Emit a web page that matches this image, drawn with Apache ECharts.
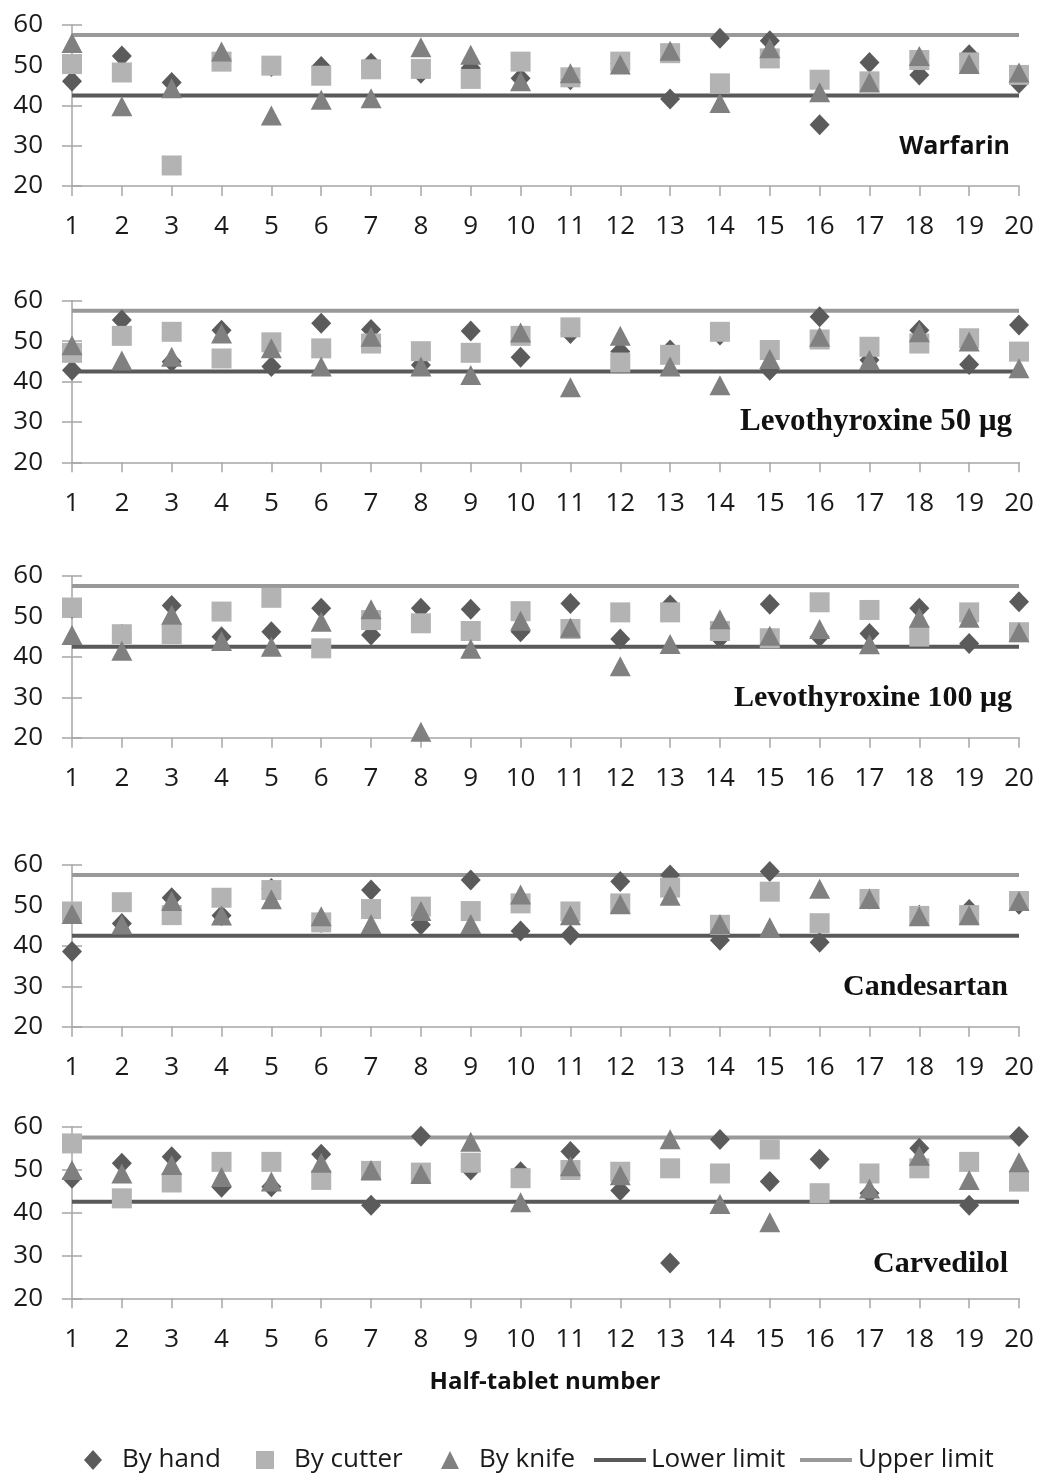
<!DOCTYPE html>
<html>
<head>
<meta charset="utf-8">
<script src="https://cdn.jsdelivr.net/npm/echarts@6/dist/echarts.min.js"></script>
<style>html,body{margin:0;padding:0;background:#fff;}#c{width:1037px;height:1473px;}</style>
</head>
<body>
<div id="c"></div>
<script>
var tablets = [1,2,3,4,5,6,7,8,9,10,11,12,13,14,15,16,17,18,19,20];
var yTicks = [20,30,40,50,60];
var lowerLimit = 42.5;
var upperLimit = 57.5;
var panelTitles = ['Warfarin','Levothyroxine 50 μg','Levothyroxine 100 μg','Candesartan','Carvedilol'];

var warfarinHand   = [46,52.3,45.7,51.7,49.7,49.7,50.5,48,49.3,46.8,46.4,50.5,41.6,56.7,56.1,35.2,50.7,47.6,52.6,45.5];
var warfarinCutter = [50.3,48.2,25.1,50.9,49.9,47.4,49,49.1,46.6,50.9,47,50.9,53,45.5,51.7,46.4,46,51.3,50.7,47.6];
var warfarinKnife  = [55.5,39.8,44.3,53.4,37.5,41.4,41.8,54.5,52.6,46,48,50.2,53.6,40.6,54.2,43.3,45.7,52.3,50.3,48.2];

var levo50Hand   = [42.8,55.2,44.9,52.7,43.7,54.4,52.9,44.1,52.5,46,51.9,47.4,47.8,51.5,42.8,56,45.3,52.7,44.2,54];
var levo50Cutter = [47.1,51.3,52.3,45.7,49.7,48.2,49.4,47.5,47.1,51.3,53.4,44.7,46.6,52.3,47.8,50.4,48.6,49.4,50.7,47.4];
var levo50Knife  = [49,45.2,46.1,51.9,48.2,43.7,51.1,43.7,41.6,52.1,38.6,51.3,43.7,39.1,45.6,51.1,45.3,52.2,49.9,43.3];

var levo100Hand   = [52,45.6,52.7,45,46.2,52,45.4,52,51.8,46.2,53.2,44.4,52.8,44.6,53,45,45.8,52,43.3,53.6];
var levo100Cutter = [52.2,45.6,45.6,51.2,54.6,42.1,49.1,48.3,46.4,51.3,46.9,51,51,46.4,44.6,53.5,51.6,45,51,46.1];
var levo100Knife  = [45.4,41.5,50.4,43.9,42.5,48.7,51.8,21.5,42,48.9,47.2,37.7,43.2,49.3,45.2,46.9,43.1,49.7,49.7,46.1];

var candesartanHand   = [38.6,45.5,51.9,47.5,54.2,45.8,53.8,45.2,56.3,43.7,42.7,55.9,57.5,41.4,58.4,40.9,51.6,47.6,49,50.3];
var candesartanCutter = [48.5,50.8,47.6,51.9,53.8,45.8,49.1,49.7,48.6,50.5,48.5,50.5,54.4,45.2,53.4,45.6,51.6,47.4,47.6,51.1];
var candesartanKnife  = [47.9,45.3,51.1,47.5,51.5,47.3,45.4,48.6,45.4,52.7,47.6,50.3,52.4,45.4,44.6,54.1,51.6,47.3,47.6,51.1];

var carvedilolHand   = [48,51.5,53,45.9,46,53.6,41.7,57.8,49.9,49.5,54.2,45.1,28.2,57,47.2,52.4,44.5,55,41.7,57.7];
var carvedilolCutter = [56.1,43.3,47,51.8,51.8,47.6,49.7,49.3,51.6,48,49.9,49.5,50.3,49.1,54.7,44.5,49.1,50.3,51.8,47.2];
var carvedilolKnife  = [49.9,49.1,51.1,48.3,47.2,51.6,49.9,49,56.5,42.4,50.8,48.7,57.1,42,37.7,null,45.6,53.2,47.6,51.7];

var panelData = [
  [warfarinHand, warfarinCutter, warfarinKnife],
  [levo50Hand, levo50Cutter, levo50Knife],
  [levo100Hand, levo100Cutter, levo100Knife],
  [candesartanHand, candesartanCutter, candesartanKnife],
  [carvedilolHand, carvedilolCutter, carvedilolKnife]
];

// layout (pixels)
var grids = [
  {top:25, height:161},
  {top:300.7, height:161.6},
  {top:576, height:161.7},
  {top:865, height:161.7},
  {top:1126.7, height:171.6}
];
var titleYs = [147, 422, 698, 987, 1264];
var titleRights = [1010, 1012, 1012, 1008, 1008];
var titleFonts = [
  {fontFamily:'Open Sans', fontWeight:'bold', fontSize:25},
  {fontFamily:'Liberation Serif', fontWeight:'bold', fontSize:31},
  {fontFamily:'Liberation Serif', fontWeight:'bold', fontSize:30},
  {fontFamily:'Liberation Serif', fontWeight:'bold', fontSize:30},
  {fontFamily:'Liberation Serif', fontWeight:'bold', fontSize:30}
];

var C_HAND = '#5b5b5b', C_CUT = '#b3b3b3', C_KNIFE = '#808080';
var C_LOW = '#595959', C_UP = '#999999';
var AX = '#a6a6a6';
var FONT = 'Open Sans';

function pairs(arr){ return tablets.map(function(t,i){ return [t, arr[i]]; }); }

var option = {
  animation:false,
  backgroundColor:'#fff',
  grid:[], xAxis:[], yAxis:[], series:[], legend:[], graphic:{elements:[]}
};

panelData.forEach(function(d, p){
  option.grid.push({left:72, right:18, top:grids[p].top, height:grids[p].height});
  option.xAxis.push({
    type:'value', gridIndex:p, min:tablets[0], max:tablets[tablets.length-1], interval:1,
    splitLine:{show:false},
    axisLine:{show:true, lineStyle:{color:AX, width:1.5}},
    axisTick:{show:true, length:10, lineStyle:{color:AX, width:1.5}},
    axisLabel:{margin:28, fontFamily:FONT, fontSize:26, color:'#1a1a1a'}
  });
  option.yAxis.push({
    type:'value', gridIndex:p, min:yTicks[0], max:yTicks[yTicks.length-1], interval:10,
    splitLine:{show:false},
    axisLine:{show:true, lineStyle:{color:AX, width:1.5}},
    axisTick:{show:true, length:10, lineStyle:{color:AX, width:1.5}},
    axisLabel:{margin:29, fontFamily:FONT, fontSize:26, color:'#1a1a1a'}
  });
  option.yAxis.push({
    type:'value', gridIndex:p, position:'left', offset:0, min:yTicks[0], max:yTicks[yTicks.length-1], interval:10,
    splitLine:{show:false},
    axisLine:{show:false},
    axisTick:{show:true, inside:true, length:10, lineStyle:{color:AX, width:1.5}},
    axisLabel:{show:false}
  });
  var yi = p*2;
  option.series.push({
    name:'Lower limit', type:'line', xAxisIndex:p, yAxisIndex:yi, z:1,
    showSymbol:false, symbol:'none', silent:true,
    data:[[tablets[0], lowerLimit],[tablets[tablets.length-1], lowerLimit]],
    lineStyle:{color:C_LOW, width:4}, itemStyle:{color:C_LOW}
  });
  option.series.push({
    name:'Upper limit', type:'line', xAxisIndex:p, yAxisIndex:yi, z:1,
    showSymbol:false, symbol:'none', silent:true,
    data:[[tablets[0], upperLimit],[tablets[tablets.length-1], upperLimit]],
    lineStyle:{color:C_UP, width:4}, itemStyle:{color:C_UP}
  });
  option.series.push({
    name:'By hand', type:'scatter', xAxisIndex:p, yAxisIndex:yi, z:3,
    symbol:'diamond', symbolSize:[20,21], data:pairs(d[0]), itemStyle:{color:C_HAND, opacity:1}
  });
  option.series.push({
    name:'By cutter', type:'scatter', xAxisIndex:p, yAxisIndex:yi, z:4,
    symbol:'rect', symbolSize:20, data:pairs(d[1]), itemStyle:{color:C_CUT, opacity:1}
  });
  option.series.push({
    name:'By knife', type:'scatter', xAxisIndex:p, yAxisIndex:yi, z:5,
    symbol:'triangle', symbolSize:[21,20], data:pairs(d[2]), itemStyle:{color:C_KNIFE, opacity:1}
  });
  var tf = titleFonts[p];
  option.graphic.elements.push({
    type:'text', id:'title'+p, x:titleRights[p], y:titleYs[p], z:10,
    style:{text:panelTitles[p], align:'right', verticalAlign:'middle', fill:'#111',
           fontFamily:tf.fontFamily, fontWeight:tf.fontWeight, fontSize:tf.fontSize}
  });
});

option.graphic.elements.push({
  type:'text', id:'xname', x:545, y:1382,
  style:{text:'Half-tablet number', align:'center', verticalAlign:'middle',
         fontFamily:'Open Sans', fontWeight:'bold', fontSize:24, fill:'#111'}
});

var legendItems = [
  {name:'By hand', icon:'diamond', left:84, w:18, h:20, pad:15},
  {name:'By cutter', icon:'rect', left:256, w:18, h:18, pad:15},
  {name:'By knife', icon:'triangle', left:441, w:18, h:18, pad:15},
  {name:'Lower limit', icon:'path://M0,0H52V4H0Z', left:594, w:52, h:4, pad:0},
  {name:'Upper limit', icon:'path://M0,0H52V4H0Z', left:800, w:54, h:4, pad:0}
];
legendItems.forEach(function(it){
  option.legend.push({
    data:[{name:it.name, icon:it.icon}], left:it.left, top:1447, padding:0,
    itemWidth:it.w, itemHeight:it.h, selectedMode:false,
    textStyle:{fontFamily:FONT, fontSize:26, color:'#1a1a1a', padding:[0,0,0,it.pad]}
  });
});

var chart = echarts.init(document.getElementById('c'));
chart.setOption(option);
</script>
</body>
</html>
